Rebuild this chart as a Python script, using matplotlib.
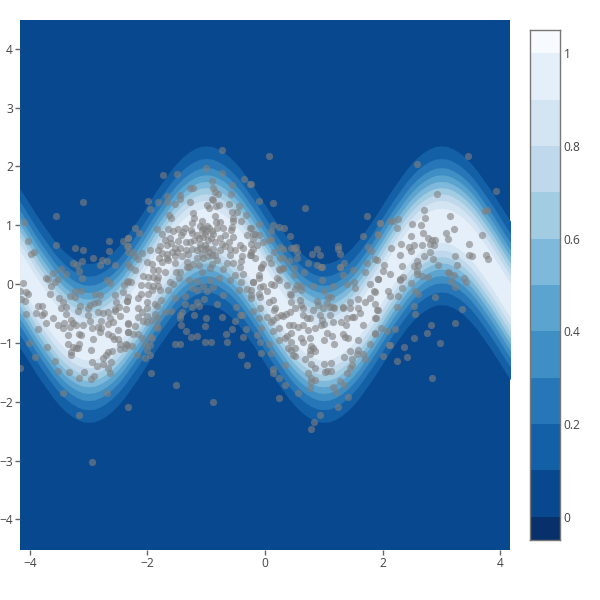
import numpy as np
import matplotlib
matplotlib.use("Agg")
import matplotlib.pyplot as plt

plt.rcParams['font.family'] = ['Open Sans', 'DejaVu Sans']

# Ridge of the density band, read every 0.1 along x from -4.2 to 4.2
ridge_x = [i / 10 for i in range(-42, 43)]
ridge_y = [.31,.16,0,-.16,-.31,-.45,-.59,-.71,-.81,-.89,-.95,-.99,-1,-.99,-.95,-.89,-.81,-.71,-.59,-.45,-.31,-.16,
           0,.16,.31,.45,.59,.71,.81,.89,.95,.99,1,.99,.95,.89,.81,.71,.59,.45,.31,.16,
           0,-.16,-.31,-.45,-.59,-.71,-.81,-.89,-.95,-.99,-1,-.99,-.95,-.89,-.81,-.71,-.59,-.45,-.31,-.16,
           0,.16,.31,.45,.59,.71,.81,.89,.95,.99,1,.99,.95,.89,.81,.71,.59,.45,.31,.16,0,-.16,-.31]
# Contour levels and their vertical half-width around the ridge
contour_levels = [.1,.2,.3,.4,.5,.6,.7,.8,.9]
contour_halfwidths = [1.35,1.135,.98,.857,.745,.64,.534,.423,.29]
colorbar_edges = [-.05,0,.1,.2,.3,.4,.5,.6,.7,.8,.9,1,1.05]
colorbar_ticks = [0,.2,.4,.6,.8,1]
colorbar_labels = ['0','0.2','0.4','0.6','0.8','1']
x_ticks = [-4,-2,0,2,4]
y_ticks = [-4,-3,-2,-1,0,1,2,3,4]

points_left_upper = [(-3.09,1.40),(-3.55,1.16),(-4.11,1.06),(-4.03,.73),(-3.56,.67),(-3.24,.61),(-3.10,.58),(-2.66,.73),(-2.42,.73),(-2.65,.57),(-2.34,.79),(-2.33,.64),(-3.99,.51),(-3.93,.55),(-3.26,.36),(-3.20,.33),(-3.11,.39),(-2.93,.45),(-2.78,.41),(-2.69,.40),(-2.80,.32),(-2.55,.33),(-3.48,.26),(-3.17,.22),(-3.61,.19),(-3.38,.17),(-3.73,.11),(-3.70,.09),(-3.52,.09),(-3.12,.10),(-3.58,.03),(-3.65,-.03),(-4.12,.02),(-2.69,.07),(-2.64,.02),(-2.34,.06),(-2.40,-.02),(-4.17,-.11),(-4.06,-.13),(-4.04,-.17),(-3.66,-.16),(-3.23,-.11),(-3.13,-.11),(-3.32,-.20),(-3.23,-.22),(-2.89,-.16),(-2.80,-.18),(-2.55,-.19),(-2.42,-.13),(-4.16,-.25),(-4.08,-.28),(-3.50,-.24),(-3.43,-.30),(-3.87,-.37),(-3.79,-.38),(-3.39,-.39),(-3.47,-.41),(-2.84,-.30),(-2.91,-.32),(-2.98,-.36),(-2.54,-.30),(-2.35,-.28),(-2.48,-.39),(-2.55,-.42),(-3.15,-.37),(-3.02,-.40)]
points_left_lower = [(-4.07,-.50),(-3.90,-.49),(-3.77,-.49),(-3.80,-.53),(-3.38,-.50),(-3.60,-.58),(-3.72,-.66),(-3.87,-.76),(-3.52,-.70),(-3.42,-.66),(-3.43,-.74),(-3.31,-.61),(-3.27,-.66),(-3.32,-.73),(-3.22,-.70),(-3.35,-.87),(-3.17,-.85),(-3.13,-.87),(-3.09,-.69),(-2.98,-.63),(-3.02,-.52),(-3.19,-.45),(-2.85,-.47),(-2.76,-.49),(-2.68,-.48),(-2.55,-.46),(-2.47,-.54),(-2.64,-.58),(-2.67,-.68),(-2.58,-.65),(-2.79,-.62),(-2.33,-.66),(-2.95,-.75),(-2.84,-.73),(-2.79,-.75),(-2.81,-.81),(-2.51,-.78),(-2.33,-.81),(-2.67,-.85),(-2.61,-.89),(-2.93,-.93),(-2.57,-.94),(-2.50,-.94),(-2.47,-1.01),(-2.37,-1.01),(-2.38,-1.08),(-2.46,-1.11),(-3.36,-1.02),(-3.16,-1.02),(-3.27,-1.07),(-3.22,-1.09),(-3.18,-1.08),(-3.31,-1.15),(-3.31,-1.21),(-2.96,-1.12),(-2.61,-1.13),(-2.67,-1.15),(-2.71,-1.21),(-2.76,-1.26),(-2.62,-1.32),(-2.95,-1.33),(-2.75,-1.35),(-2.86,-1.39),(-2.68,-1.42),(-2.64,-1.51),(-3.57,-1.31),(-3.52,-1.48),(-3.33,-1.50),(-3.08,-1.50),(-3.17,-1.59),(-2.96,-1.61),(-2.91,-1.56),(-4.02,-1.0),(-3.71,-1.07),(-3.92,-1.24),(-4.17,-1.43),(-3.44,-1.85),(-2.69,-1.85),(-2.33,-2.09),(-3.16,-2.22),(-2.95,-3.03)]
points_peak = [(-.74,2.28),(-1.0,1.98),(-.74,1.89),(-1.49,1.87),(-1.73,1.85),(-.35,1.79),(-.26,1.70),(-.91,1.76),(-.57,1.68),(-1.28,1.64),(-1.22,1.63),(-.89,1.63),(-.85,1.57),(-.80,1.53),(-.58,1.53),(-1.67,1.50),(-1.45,1.51),(-1.45,1.44),(-1.99,1.42),(-1.82,1.40),(-1.66,1.39),(-1.53,1.36),(-1.27,1.39),(-.91,1.44),(-.88,1.43),(-.98,1.34),(-.78,1.35),(-.95,1.30),(-.84,1.32),(-.61,1.37),(-.45,1.33),(-1.96,1.28),(-.56,1.22),(-.47,1.23),(-.33,1.17),(-1.63,1.17),(-1.60,1.13),(-1.23,1.21),(-1.20,1.13),(-.85,1.16),(-.55,1.13),(-.41,1.07),(-1.25,1.04),(-1.07,1.07),(-.83,1.06),(-.77,1.06),(-.54,1.07),(-1.84,.94),(-2.22,.95),(-2.14,.87),(-2.33,.79),(-1.65,.94),(-1.57,.91),(-1.48,.93),(-1.36,.95),(-1.26,.92),(-1.11,.99),(-.99,.99),(-1.05,.95),(-.90,.91),(-.82,.95),(-.71,.96),(-.57,.97),(-.58,.92),(-.26,.95),(-.20,.86),(-.31,.84),(-1.75,.85),(-1.62,.79),(-1.71,.75),(-1.43,.83),(-1.39,.89),(-1.25,.87),(-1.15,.83),(-1.02,.86),(-.92,.78),(-.77,.78),(-.68,.83),(-.54,.80),(-1.48,.73),(-1.28,.72),(-1.11,.69),(-1.02,.66),(-.74,.69),(-.68,.65),(-.43,.66),(-.37,.62),(-1.67,.66),(-1.79,.65),(-1.82,.58),(-1.76,.53),(-1.67,.52),(-1.53,.61),(-1.50,.55),(-1.95,.58),(-2.09,.53),(-2.24,.55),(-2.35,.64),(-2.33,.55),(-1.31,.52),(-1.16,.58),(-1.02,.59),(-1.05,.44),(-.90,.49),(-.77,.58),(-.60,.49),(-.51,.58),(-.23,.55),(-.26,.50),(-.39,.47),(-1.54,.47),(-1.42,.47),(-1.67,.44),(-1.80,.44),(-1.76,.38),(-1.65,.41),(-1.22,.35),(-1.53,.36),(-1.33,.38),(-.97,.48),(-.91,.35),(-.82,.41),(-.65,.36),(-.40,.40),(-.54,.36),(-2.16,.42),(-2.01,.38),(-1.93,.34),(-2.34,.35),(-2.22,.47),(-1.13,.32),(-1.30,.29)]
points_peak_cluster = [(-1.08,.92),(-1.0,.90),(-.95,.95),(-.88,.85),(-1.12,.78),(-1.05,.80),(-.97,.75),(-.85,.72),(-1.20,.75),(-1.10,.62),(-.98,.62),(-.88,.60),(-1.08,.52),(-.95,.55),(-1.15,.45),(-.85,.50),(-1.35,.72),(-1.45,.62),(-1.35,.58),(-.62,.72),(-.60,.60),(-1.60,.70),(-1.58,.55),(-1.25,.60)]
points_below_peak = [(-2.30,.29),(-2.21,.24),(-1.90,.24),(-1.82,.24),(-1.70,.21),(-1.52,.21),(-1.45,.20),(-1.33,.29),(-1.08,.20),(-.94,.28),(-.71,.25),(-.43,.29),(-.37,.18),(-2.35,.04),(-2.28,.04),(-2.11,-.01),(-2.07,.14),(-1.99,.12),(-1.90,.12),(-1.82,.12),(-1.84,.07),(-1.99,-.02),(-1.90,-.03),(-1.82,-.03),(-1.62,.03),(-1.56,.01),(-1.47,.10),(-1.30,.07),(-1.16,.05),(-.94,.07),(-.78,.10),(-.60,.07),(-.51,.15),(-.40,.04),(-.20,.04),(-1.65,-.10),(-1.79,-.10),(-1.93,-.10),(-2.11,-.16),(-1.99,-.16),(-2.33,-.22),(-2.16,-.24),(-2.35,-.29),(-2.01,-.31),(-1.88,-.33),(-1.77,-.27),(-1.53,-.23),(-1.37,-.20),(-1.25,-.06),(-1.16,-.10),(-1.05,-.03),(-.98,-.12),(-.88,-.05),(-.71,-.19),(-.45,-.10),(-.31,-.09),(-.23,-.19),(-1.16,-.30),(-1.04,-.26),(-1.37,-.33),(-1.25,-.39),(-1.13,-.37),(-.82,-.33),(-.50,-.39),(-2.16,-.40),(-2.01,-.40),(-1.84,-.37),(-2.37,-.43),(-2.17,-.56),(-2.10,-.47),(-2.01,-.54),(-1.87,-.50),(-1.82,-.58),(-1.70,-.48),(-1.60,-.46),(-1.45,-.52),(-1.41,-.47),(-1.21,-.53),(-1.01,-.57),(-.73,-.56),(-.43,-.53),(-.39,-.53),(-1.45,-.57),(-2.33,-.67),(-2.22,-.71),(-2.07,-.63),(-2.01,-.65),(-1.93,-.61),(-1.84,-.71),(-1.83,-.75),(-1.43,-.69),(-1.02,-.71),(-.51,-.63),(-.33,-.77),(-.56,-.77),(-1.34,-.80),(-2.33,-.81),(-2.24,-.85),(-2.16,-.85),(-2.09,-.91),(-1.96,-.90),(-1.93,-.92),(-1.26,-.90),(-1.15,-.88),(-.66,-.84),(-.38,-.90),(-2.04,-1.01),(-1.95,-1.04),(-2.35,-1.04),(-2.27,-1.05),(-2.01,-1.12),(-1.54,-1.02),(-1.45,-1.01),(-1.02,-.98),(-.92,-.99),(-.65,-.98),(-2.18,-1.20),(-1.96,-1.20),(-2.04,-1.25),(-.40,-1.21),(-.31,-1.37),(-1.94,-1.51),(-1.51,-1.72),(-.88,-2.0)]
points_mid_upper = [(.06,2.18),(-.24,1.70),(-.10,1.42),(.13,1.38),(.68,1.30),(1.73,1.15),(1.95,1.04),(-.10,1.03),(.13,1.00),(.24,.97),(.32,.95),(.10,.90),(-.24,.95),(.43,.82),(1.67,.82),(1.93,.85),(-.17,.86),(-.10,.83),(-.20,.77),(.07,.75),(.11,.77),(-.23,.69),(-.13,.66),(-.04,.71),(.26,.63),(.31,.59),(.16,.54),(.44,.61),(.49,.61),(.53,.63),(.54,.55),(1.25,.65),(1.25,.60),(1.27,.52),(.88,.59),(.80,.52),(.94,.50),(1.76,.63),(1.80,.57),(-.20,.59),(-.17,.45),(.07,.45),(.26,.44),(.30,.45),(.41,.40),(.54,.44),(.74,.36),(1.87,.42),(1.73,.36),(-.23,.49),(-.03,.35),(.11,.36),(.88,.32),(.95,.29),(1.28,.29),(1.35,.36),(.50,.28),(.31,.27),(-.06,.27),(.24,.25)]
points_mid_lower = [(-.06,.29),(-.10,.16),(-.11,.11),(.26,.24),(.31,.28),(.50,.15),(.67,.21),(.97,.29),(.97,.07),(1.27,.29),(1.32,.16),(1.49,.24),(1.70,.20),(.21,.10),(.11,.01),(.15,-.01),(.23,.07),(-.21,.03),(.81,-.03),(.37,-.02),(.54,-.02),(.62,-.03),(1.15,-.03),(1.39,.01),(1.52,.04),(1.53,-.06),(1.79,.01),(1.93,.08),(-.09,-.05),(-.03,-.03),(-.23,-.10),(-.10,-.16),(-.09,-.22),(.04,-.12),(.43,-.16),(.45,-.19),(.62,-.10),(.51,-.09),(1.0,-.12),(1.86,-.12),(1.08,-.22),(1.12,-.22),(1.79,-.24),(1.70,-.30),(1.59,-.26),(1.44,-.30),(1.33,-.39),(1.15,-.39),(.88,-.29),(.91,-.35),(1.05,-.32),(1.11,-.39),(-.23,-.24),(.06,-.30),(.13,-.27),(.17,-.40),(.44,-.30),(.60,-.27),(-.09,-.40),(-.20,-.46),(.15,-.44),(.43,-.47),(.62,-.35),(.65,-.40),(.51,-.40),(.82,-.44),(.99,-.41),(1.17,-.40),(1.33,-.40),(1.45,-.41),(1.59,-.41),(1.90,-.44),(1.62,-.49),(.65,-.53),(.94,-.52),(1.11,-.53),(.03,-.56),(-.10,-.58),(.20,-.56),(.27,-.52),(.31,-.54),(.36,-.50),(.10,-.65),(.14,-.61),(.71,-.57),(.77,-.57),(.97,-.61),(.95,-.70),(1.0,-.67),(1.16,-.64),(1.29,-.65),(1.38,-.69),(1.39,-.57),(1.48,-.56),(1.52,-.56),(1.87,-.57),(1.66,-.70),(.40,-.69),(.48,-.70),(.57,-.73),(.65,-.69),(.74,-.78),(.85,-.75),(.24,-.74),(.14,-.80),(-.06,-.75),(-.13,-.86),(.45,-.83),(.37,-.88),(.34,-.91),(.24,-.95),(.62,-.91),(.77,-.91),(1.05,-.83),(1.14,-.88),(1.33,-.84),(1.36,-.90),(1.42,-.91),(1.59,-.95),(1.87,-.83),(-.09,-.98),(.06,-1.01),(.45,-.98),(.64,-.99),(1.0,-.95),(1.18,-1.01),(1.79,-1.01),(.39,-1.09),(.45,-1.12),(.51,-1.09),(.79,-1.05),(.82,-1.09),(.77,-1.12),(-.07,-1.17),(.10,-1.17),(.47,-1.21),(.51,-1.22),(.77,-1.18),(.85,-1.14),(1.45,-1.14),(1.59,-1.12),(1.56,-1.18),(1.66,-1.18),(1.35,-1.24),(1.48,-1.28),(1.71,-1.28),(.68,-1.27),(.34,-1.38),(.79,-1.36),(.85,-1.43),(1.01,-1.36),(1.12,-1.34),(1.48,-1.38),(1.44,-1.42),(.13,-1.45),(.14,-1.51),(.23,-1.59),(.73,-1.51),(1.02,-1.49),(1.06,-1.48),(1.13,-1.47),(1.39,-1.51),(.78,-1.60),(.85,-1.63),(.79,-1.66),(.77,-1.76),(1.28,-1.65),(1.35,-1.71),(.34,-1.72),(1.15,-1.75),(1.20,-1.83),(.56,-1.85),(1.41,-1.92),(.23,-1.93),(1.25,-2.09),(.93,-2.23),(.83,-2.35),(.79,-2.47)]
points_right_upper = [(3.46,2.17),(2.59,2.04),(3.93,1.59),(2.92,1.54),(2.71,1.26),(3.74,1.24),(3.78,1.26),(3.15,1.16),(2.72,1.12),(1.96,1.04),(2.13,1.07),(2.18,1.08),(2.27,1.10),(2.51,1.02),(2.65,1.01),(2.25,.96),(3.22,.94),(2.69,.87),(3.08,.87),(1.93,.84),(2.48,.82),(3.69,.83),(2.78,.79),(3.11,.77),(2.84,.75),(2.90,.75),(2.81,.68),(2.88,.66),(2.31,.69),(2.54,.67),(2.67,.66),(3.48,.68),(2.14,.61),(2.45,.63),(2.48,.57),(2.80,.55),(2.29,.50),(2.71,.47),(3.23,.48),(3.47,.49),(3.52,.48),(3.76,.50),(3.79,.42),(2.86,.43),(1.90,.41),(2.58,.39),(2.61,.32),(2.54,.31),(2.02,.32),(2.34,.31),(2.95,.33),(3.26,.32),(2.0,.23),(2.58,.23),(2.13,.18),(2.58,.17),(2.67,.14),(2.78,.12),(3.11,.21),(3.13,.19),(3.22,.15),(2.35,.12),(2.30,.08),(3.38,.10)]
points_right_lower = [(1.92,.09),(2.30,.07),(3.42,.03),(3.17,.05),(3.23,-.05),(2.48,.02),(2.34,-.06),(2.09,-.11),(2.13,-.20),(2.26,-.20),(2.56,-.11),(2.60,-.16),(2.89,-.22),(1.87,-.13),(1.87,-.33),(1.92,-.44),(2.24,-.39),(2.54,-.37),(2.55,-.51),(1.89,-.57),(3.36,-.43),(3.24,-.66),(2.82,-.70),(1.97,-.75),(2.08,-.79),(2.21,-.77),(1.87,-.84),(2.76,-.83),(2.54,-.91),(2.98,-1.0),(2.11,-1.03),(2.13,-1.04),(2.36,-1.07),(2.01,-1.22),(2.41,-1.24),(2.25,-1.31),(2.85,-1.60)]

BAND_COLORS = plt.get_cmap('Blues_r', 12)(np.arange(12))
TEXT = '#444444'

fig = plt.figure(figsize=(6, 6), dpi=100)
ax = fig.add_axes([20/600, 50/600, 490/600, 530/600])
ax.set_facecolor(BAND_COLORS[1])
rx, ry = np.array(ridge_x), np.array(ridge_y)
for i, hw in enumerate(contour_halfwidths):
    ax.fill_between(rx, ry - hw, ry + hw, color=BAND_COLORS[i + 2], lw=0, zorder=2 + i / 10)

all_points = np.array(points_left_upper + points_left_lower + points_peak + points_peak_cluster + points_below_peak
                      + points_mid_upper + points_mid_lower + points_right_upper + points_right_lower)
ax.scatter(all_points[:, 0], all_points[:, 1], s=27, color='#808080', alpha=.6, linewidths=0, zorder=5)

ax.set_xlim(-4.17, 4.17)
ax.set_ylim(-4.52, 4.49)
ax.set_xticks(x_ticks)
ax.set_yticks(y_ticks)
ax.set_xticklabels([str(t).replace('-', '\u2212') for t in x_ticks])
ax.set_yticklabels([str(t).replace('-', '\u2212') for t in y_ticks])
ax.tick_params(length=3.6, width=1, color='#666666', labelcolor=TEXT, labelsize=8.64, pad=1.5)
for s in ax.spines.values():
    s.set_visible(False)

cax = fig.add_axes([530/600, 60/600, 30/600, 510/600])
for i in range(len(colorbar_edges) - 1):
    cax.bar(.5, colorbar_edges[i + 1] - colorbar_edges[i], bottom=colorbar_edges[i], width=1,
            color=BAND_COLORS[i], lw=0)
cax.set_xlim(0, 1)
cax.set_ylim(-.05, 1.05)
cax.set_xticks([])
cax.yaxis.tick_right()
cax.set_yticks(colorbar_ticks)
cax.set_yticklabels(colorbar_labels)
cax.tick_params(length=0, labelcolor=TEXT, labelsize=8.64, pad=2.5)
for s in cax.spines.values():
    s.set_color('#777777')
    s.set_linewidth(1)

fig.savefig('out.png', dpi=100)
